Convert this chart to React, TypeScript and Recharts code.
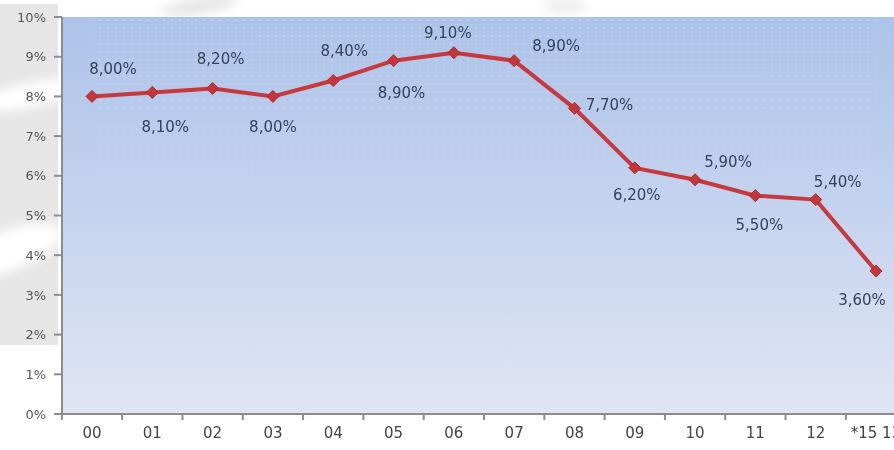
import { LineChart, Line, XAxis, YAxis, CartesianGrid, LabelList, ReferenceArea } from "recharts";

const years = ["00", "01", "02", "03", "04", "05", "06", "07", "08", "09", "10", "11", "12", "*15 13"];
const rates = [8.0, 8.1, 8.2, 8.0, 8.4, 8.9, 9.1, 8.9, 7.7, 6.2, 5.9, 5.5, 5.4, 3.6];
const percentTicks = [0, 1, 2, 3, 4, 5, 6, 7, 8, 9, 10];

// label placement around each marker (dx, dy)
const labelOffsets: [number, number][] = [
  [21, -27], [13, 35], [8, -29], [0, 31], [11, -30], [8, 32], [-6, -20],
  [42, -15], [35, -3], [2, 27], [33, -18], [4, 29], [22, -18], [-14, 29],
];

const data = years.map((year, i) => ({ year, rate: rates[i] }));

const formatRate = (v: number) => `${v.toFixed(2).replace(".", ",")}%`;

function Diamond({ cx, cy }: any) {
  if (cx == null || cy == null) return null;
  const r = 6;
  return (
    <path
      d={`M${cx},${cy - r}L${cx + r},${cy}L${cx},${cy + r}L${cx - r},${cy}Z`}
      fill="#c4363a"
      stroke="#a82c30"
      strokeWidth={1}
    />
  );
}

// category label in the middle, tick mark on the band boundary
function YearTick({ x, y, payload, width, visibleTicksCount }: any) {
  const band = width / visibleTicksCount;
  const edge = x - band / 2;
  return (
    <g>
      <line x1={edge} y1={y} x2={edge} y2={y + 6} stroke="#8c8c8c" strokeWidth={2} />
      <text x={x} y={y + 24} textAnchor="middle" fontSize={15} fill="#444">
        {payload.value}
      </text>
    </g>
  );
}

function RateLabel(props: any) {
  const { x, y, value, index } = props;
  const [dx, dy] = labelOffsets[index] ?? [0, -20];
  return (
    <text
      x={x + dx}
      y={y + dy}
      textAnchor="middle"
      dominantBaseline="central"
      fontSize={15}
      fill="#34425c"
    >
      {formatRate(Number(value))}
    </text>
  );
}

function DotOverlay(props: any) {
  const { x, y, width, height } = props;
  return <rect x={x} y={y} width={width} height={height} fill="url(#plotDots)" mask="url(#dotFade)" />;
}

export default function App() {
  return (
    <div
      style={{
        position: "absolute",
        left: 0,
        top: 0,
        width: 894,
        height: 450,
        overflow: "hidden",
        background: "#fff",
        fontFamily: "'DejaVu Sans', sans-serif",
      }}
    >
      {/* faint backdrop shapes behind the axis labels */}
      <svg width={894} height={450} style={{ position: "absolute", left: 0, top: 0 }}>
        <defs>
          <filter id="soft" x="-50%" y="-50%" width="200%" height="200%">
            <feGaussianBlur stdDeviation="6" />
          </filter>
          <linearGradient id="plotBg" x1="0" y1="0" x2="0" y2="1">
            <stop offset="0%" stopColor="#adc3e9" />
            <stop offset="45%" stopColor="#c3d2ee" />
            <stop offset="100%" stopColor="#e0e5f4" />
          </linearGradient>
          <pattern id="plotDots" width="8" height="8" patternUnits="userSpaceOnUse">
            <circle cx="4" cy="4" r="1" fill="#ffffff" fillOpacity="0.3" />
          </pattern>
          <linearGradient id="fadeGrad" x1="0" y1="0" x2="0" y2="1">
            <stop offset="0%" stopColor="#fff" stopOpacity="1" />
            <stop offset="55%" stopColor="#fff" stopOpacity="0" />
          </linearGradient>
          <mask id="dotFade" maskContentUnits="objectBoundingBox">
            <rect x="0" y="0" width="1" height="1" fill="url(#fadeGrad)" />
          </mask>
        </defs>
        <rect x={0} y={4} width={58} height={341} fill="#e6e6e6" />
        <g filter="url(#soft)">
          <ellipse cx={30} cy={95} rx={60} ry={12} fill="#fff" transform="rotate(-12 30 95)" />
          <ellipse cx={10} cy={250} rx={55} ry={20} fill="#fff" transform="rotate(-20 10 250)" />
          <ellipse cx={200} cy={6} rx={40} ry={7} fill="#e2e2e2" transform="rotate(-10 200 6)" />
          <ellipse cx={565} cy={6} rx={22} ry={6} fill="#e8e8e8" />
        </g>
      </svg>

      <div style={{ position: "absolute", left: 0, top: 0 }}>
        <LineChart width={920} height={450} data={data} margin={{ top: 17, right: 14, bottom: 6, left: 12 }}>
          <CartesianGrid horizontal={false} vertical={false} stroke="none" fill="url(#plotBg)" />
          <ReferenceArea y1={0} y2={10} shape={DotOverlay} ifOverflow="visible" />
          <XAxis
            dataKey="year"
            interval={0}
            height={30}
            padding={{ left: 30, right: 30 }}
            tickSize={0}
            tickMargin={0}
            tickLine={false}
            axisLine={{ stroke: "#8c8c8c", strokeWidth: 2 }}
            tick={<YearTick />}
          />
          <YAxis
            width={50}
            domain={[0, 10]}
            ticks={percentTicks}
            tickFormatter={(v: number) => `${v}%`}
            tickSize={8}
            tickMargin={8}
            axisLine={{ stroke: "#8c8c8c", strokeWidth: 2 }}
            tickLine={{ stroke: "#8c8c8c", strokeWidth: 2 }}
            tick={{ fontSize: 13, fill: "#555" }}
          />
          <Line
            dataKey="rate"
            stroke="#c6393c"
            strokeWidth={4}
            dot={<Diamond />}
            activeDot={false}
            isAnimationActive={false}
          >
            <LabelList dataKey="rate" content={<RateLabel />} />
          </Line>
        </LineChart>
      </div>
    </div>
  );
}
